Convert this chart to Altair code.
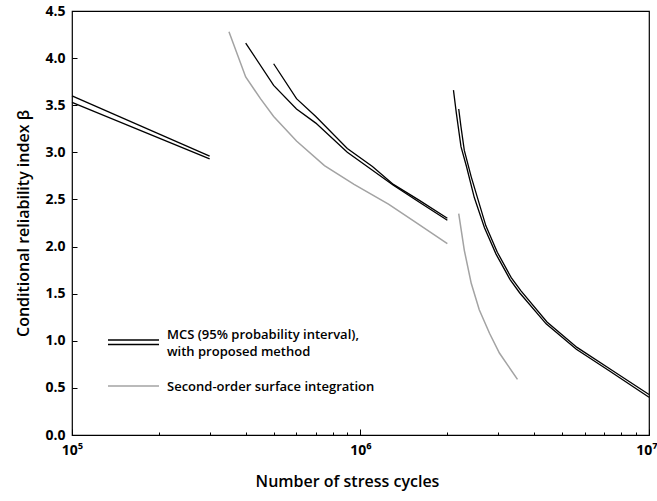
import altair as alt
import pandas as pd

# ---- data ----
# MCS (95% probability interval), segment 1: two interval bounds
s1_N = [1e5, 3e5]
s1_hi = [3.60, 2.96]
s1_lo = [3.53, 2.93]

# MCS segment 2
s2a_N = [4e5, 5e5, 6e5, 7e5, 9e5, 1.1e6, 1.3e6, 1.6e6, 2e6]
s2a_b = [4.16, 3.71, 3.46, 3.31, 3.00, 2.81, 2.65, 2.47, 2.28]
s2b_N = [5e5, 6e5, 7e5, 9e5, 1.1e6, 1.3e6, 1.6e6, 2e6]
s2b_b = [3.94, 3.57, 3.38, 3.04, 2.85, 2.66, 2.49, 2.30]

# MCS segment 3
s3a_N = [2.10e6, 2.15e6, 2.23e6, 2.33e6, 2.48e6, 2.69e6, 2.95e6, 3.3e6, 3.56e6, 4.4e6, 5.6e6, 7.3e6, 1e7]
s3a_b = [3.66, 3.41, 3.06, 2.85, 2.52, 2.20, 1.92, 1.65, 1.51, 1.18, 0.91, 0.68, 0.40]
s3b_N = [2.19e6, 2.23e6, 2.29e6, 2.42e6, 2.72e6, 2.98e6, 3.33e6, 3.6e6, 4.43e6, 5.63e6, 7.33e6, 1e7]
s3b_b = [3.46, 3.27, 3.02, 2.74, 2.22, 1.94, 1.67, 1.53, 1.20, 0.93, 0.70, 0.43]

# Second-order surface integration
g2_N = [3.5e5, 4e5, 4.5e5, 5e5, 6e5, 7.5e5, 9.5e5, 1.25e6, 1.55e6, 2e6]
g2_b = [4.28, 3.80, 3.57, 3.38, 3.12, 2.86, 2.66, 2.45, 2.26, 2.03]
g3_N = [2.19e6, 2.29e6, 2.42e6, 2.58e6, 2.8e6, 3.03e6, 3.5e6]
g3_b = [2.35, 1.96, 1.61, 1.33, 1.08, 0.87, 0.59]

y_ticks = [0.0, 0.5, 1.0, 1.5, 2.0, 2.5, 3.0, 3.5, 4.0, 4.5]
x_major = [1e5, 1e6, 1e7]
x_minor = [2e5, 3e5, 4e5, 5e5, 6e5, 7e5, 8e5, 9e5,
           2e6, 3e6, 4e6, 5e6, 6e6, 7e6, 8e6, 9e6]

legend_mcs = ["MCS (95% probability interval),", "with proposed method"]
legend_sos = "Second-order surface integration"

FONT = "Open Sans"
WEIGHT = 600

# ---- build tables ----
def seg(name, kind, xs, ys):
    return pd.DataFrame({"N": xs, "beta": ys, "series": name, "kind": kind})

mcs = pd.concat([
    seg("s1hi", "mcs", s1_N, s1_hi),
    seg("s1lo", "mcs", s1_N, s1_lo),
    seg("s2a", "mcs", s2a_N, s2a_b),
    seg("s2b", "mcs", s2b_N, s2b_b),
    seg("s3a", "mcs", s3a_N, s3a_b),
    seg("s3b", "mcs", s3b_N, s3b_b),
])
sos = pd.concat([
    seg("g2", "sos", g2_N, g2_b),
    seg("g3", "sos", g3_N, g3_b),
])

xscale = alt.Scale(type="log", domain=[1e5, 1e7], nice=False)
yscale = alt.Scale(domain=[0, 4.5], nice=False)

label_expr = ("datum.value == 100000 ? '10\u2075' : "
              "(datum.value == 1000000 ? '10\u2076' : '10\u2077')")

x_axis_major = alt.Axis(
    orient="bottom", values=x_major, labelExpr=label_expr, offset=-6, tickSize=6,
    domain=False, grid=False, tickColor="black", tickWidth=1,
    labelFont=FONT, labelFontSize=14, labelFontWeight=700, labelColor="black",
    labelPadding=8, labelFlush=False,
    labelAlign=alt.ExprRef(expr="datum.value == 10000000 ? 'right' : 'center'"),
    labelOffset=alt.ExprRef(expr="datum.value == 10000000 ? 8 : 0"),
    title="Number of stress cycles", titleFont=FONT, titleFontSize=16,
    titleFontWeight=WEIGHT, titleColor="black", titlePadding=16, titleX=275,
)
x_axis_minor = alt.Axis(
    orient="bottom", values=x_minor, offset=-3, tickSize=3, labels=False,
    domain=False, grid=False, tickColor="black", tickWidth=1, title=None,
)
y_axis = alt.Axis(
    orient="left", values=y_ticks, format=".1f", offset=-5, tickSize=5,
    domain=False, grid=False, tickColor="black", tickWidth=1,
    labelFont=FONT, labelFontSize=14, labelFontWeight=700, labelColor="black",
    labelPadding=7, labelFlush=False,
    title="Conditional reliability index \u03b2", titleFont=FONT, titleFontSize=16,
    titleFontWeight=WEIGHT, titleColor="black", titlePadding=13,
)

black_lines = alt.Chart(mcs).mark_line(color="black", strokeWidth=1.3).encode(
    x=alt.X("N:Q", scale=xscale, axis=x_axis_major),
    y=alt.Y("beta:Q", scale=yscale, axis=y_axis),
    detail="series:N",
    order="N:Q",
)
gray_lines = alt.Chart(sos).mark_line(color="#a3a3a3", strokeWidth=1.5).encode(
    x=alt.X("N:Q", scale=xscale, axis=x_axis_minor),
    y=alt.Y("beta:Q", scale=yscale, axis=y_axis),
    detail="series:N",
    order="N:Q",
)

one = pd.DataFrame({"k": [0]})
leg_rule1 = alt.Chart(one).mark_rule(color="black", strokeWidth=1.3).encode(
    x=alt.value(36), x2=alt.value(87), y=alt.value(329))
leg_rule2 = alt.Chart(one).mark_rule(color="black", strokeWidth=1.3).encode(
    x=alt.value(36), x2=alt.value(87), y=alt.value(333.5))
leg_rule3 = alt.Chart(one).mark_rule(color="#a3a3a3", strokeWidth=1.5).encode(
    x=alt.value(36), x2=alt.value(87), y=alt.value(375))

def leg_text(txt, y):
    return alt.Chart(pd.DataFrame({"t": [txt]})).mark_text(
        align="left", baseline="middle", font=FONT, fontSize=13,
        fontWeight=WEIGHT, color="black",
    ).encode(x=alt.value(95), y=alt.value(y), text="t:N")

chart = alt.layer(
    black_lines, gray_lines,
    leg_rule1, leg_rule2, leg_rule3,
    leg_text(legend_mcs[0], 324), leg_text(legend_mcs[1], 341),
    leg_text(legend_sos, 376),
).resolve_axis(x="independent").properties(
    width=577, height=424,
    autosize=alt.AutoSizeParams(type="none"),
    padding={"left": 72, "top": 11, "right": 8, "bottom": 66},
    background="white",
).configure_view(stroke="black", strokeWidth=1.2)

chart.save("out.html", embed_options={"renderer": "svg", "actions": False})
